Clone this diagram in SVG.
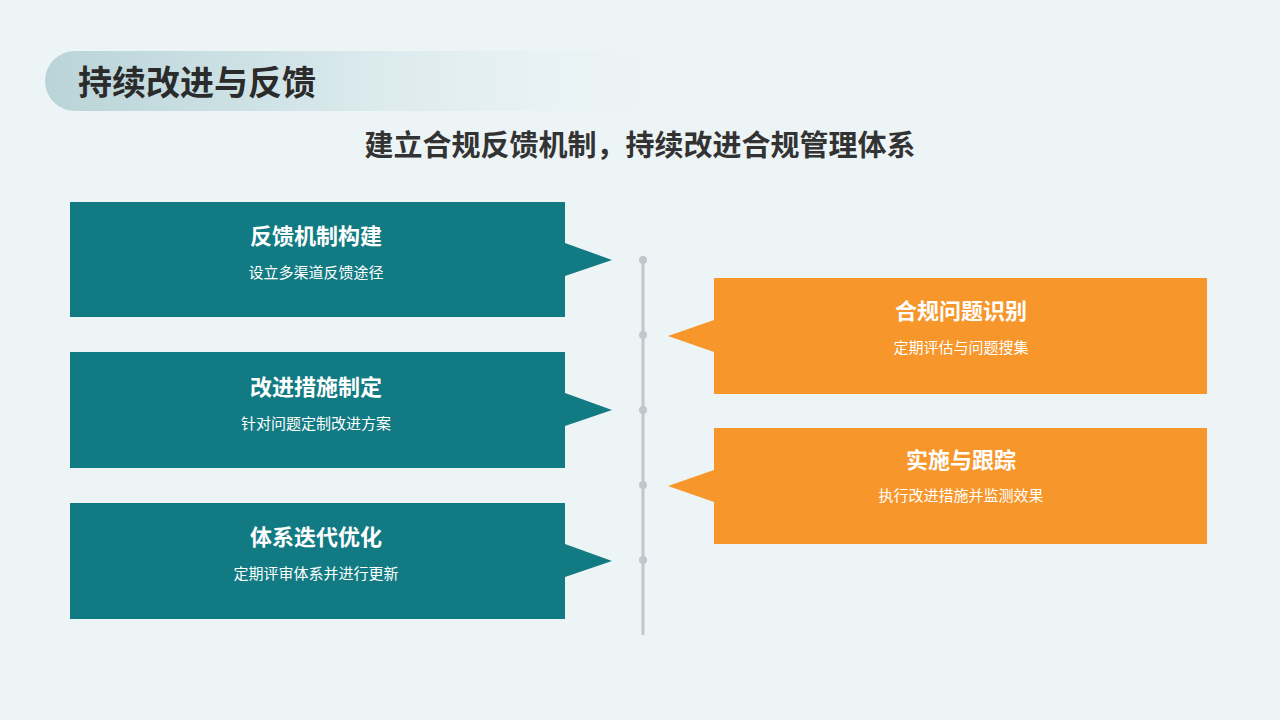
<svg xmlns="http://www.w3.org/2000/svg" width="1280" height="720" viewBox="0 0 1280 720">
<defs>
<linearGradient id="hdr" x1="0" x2="1" y1="0" y2="0">
<stop offset="0" stop-color="#b9d4d8"/><stop offset="0.5" stop-color="#dcebee"/><stop offset="1" stop-color="#eef4f6" stop-opacity="0"/>
</linearGradient>
<style>
.t{font-family:"Noto Sans CJK SC","Noto Sans",sans-serif;}
.h{font-size:22px;font-weight:bold;fill:#fff;text-anchor:middle;}
.s{font-size:15px;fill:#fff;text-anchor:middle;}
.teal{fill:#127a82;}
.org{fill:#f7962a;}
.dot{fill:#c0c6cc;}
</style>
</defs>
<rect width="1280" height="720" fill="#edf4f6"/>
<path d="M75 51 H730 V111 H75 A30 30 0 0 1 75 51 Z" fill="url(#hdr)"/>
<text class="t" x="78" y="95" font-size="34" font-weight="bold" fill="#2b2b2b">持续改进与反馈</text>
<text class="t" x="640" y="156" font-size="29" font-weight="bold" fill="#333" text-anchor="middle">建立合规反馈机制，持续改进合规管理体系</text>
<g id="connectors">
<line x1="643" y1="260" x2="643" y2="635" stroke="#c0c6cc" stroke-width="3"/>
<circle class="dot" cx="643" cy="260" r="4"/><circle class="dot" cx="643" cy="335" r="4"/><circle class="dot" cx="643" cy="410" r="4"/><circle class="dot" cx="643" cy="485" r="4"/><circle class="dot" cx="643" cy="560" r="4"/>
</g>
<g id="n1"><path class="teal" d="M70 202 H565 V243 L612 260 L565 276 V317 H70 Z"/>
<text class="t h" x="316" y="244">反馈机制构建</text><text class="t s" x="316" y="278">设立多渠道反馈途径</text></g>
<g id="n2"><path class="teal" d="M70 352 H565 V393 L612 410 L565 426 V468 H70 Z"/>
<text class="t h" x="316" y="395">改进措施制定</text><text class="t s" x="316" y="429">针对问题定制改进方案</text></g>
<g id="n3"><path class="teal" d="M70 503 H565 V544 L612 561 L565 577 V619 H70 Z"/>
<text class="t h" x="316" y="545">体系迭代优化</text><text class="t s" x="316" y="579">定期评审体系并进行更新</text></g>
<g id="n4"><path class="org" d="M714 278 H1207 V394 H714 V352 L668 336 L714 320 Z"/>
<text class="t h" x="961" y="319">合规问题识别</text><text class="t s" x="961" y="353">定期评估与问题搜集</text></g>
<g id="n5"><path class="org" d="M714 428 H1207 V544 H714 V502 L668 486 L714 470 Z"/>
<text class="t h" x="961" y="468">实施与跟踪</text><text class="t s" x="961" y="501">执行改进措施并监测效果</text></g>
</svg>
